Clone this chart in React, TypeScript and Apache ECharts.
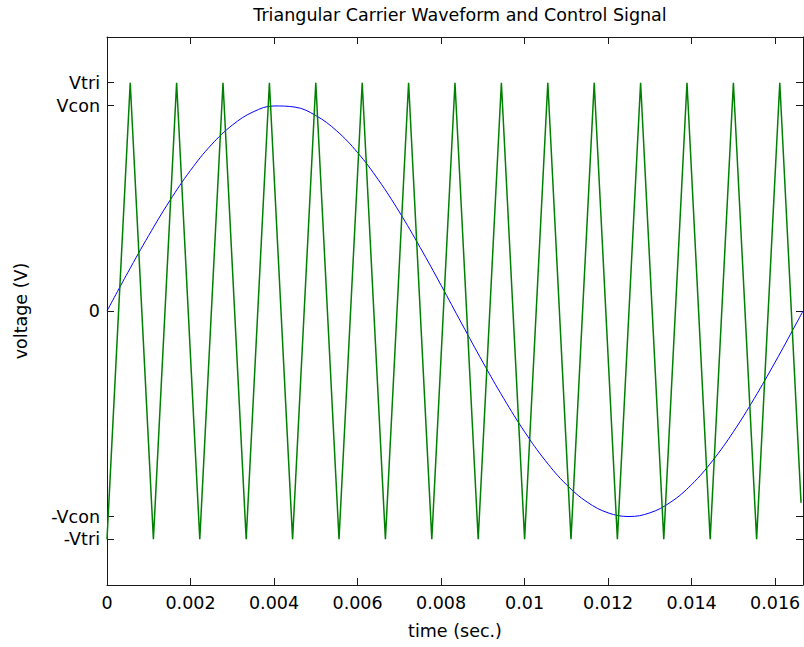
import React, { useEffect, useRef } from "react";
import * as echarts from "echarts";

const FONT = "DejaVu Sans";

const titleText = "Triangular Carrier Waveform and Control Signal";
const xAxisName = "time (sec.)";
const yAxisName = "voltage (V)";

const xTickValues = [0, 0.002, 0.004, 0.006, 0.008, 0.01, 0.012, 0.014, 0.016];
const xTickLabels = ["0", "0.002", "0.004", "0.006", "0.008", "0.01", "0.012", "0.014", "0.016"];
const yTickValues = [-1, -0.9, 0, 0.9, 1];
const yTickLabels = ["-Vtri", "-Vcon", "0", "Vcon", "Vtri"];

// Triangular carrier: vertex times (s) and values (per-unit of Vtri)
const triTimes = [
  0, 0.000556, 0.001111, 0.001667, 0.002222, 0.002778, 0.003333, 0.003889,
  0.004444, 0.005, 0.005556, 0.006111, 0.006667, 0.007222, 0.007778, 0.008333,
  0.008889, 0.009444, 0.01, 0.010556, 0.011111, 0.011667, 0.012222, 0.012778,
  0.013333, 0.013889, 0.014444, 0.015, 0.015556, 0.016111, 0.01662,
];
const triValues = [
  -1, 1, -1, 1, -1, 1, -1, 1, -1, 1, -1, 1, -1, 1, -1, 1,
  -1, 1, -1, 1, -1, 1, -1, 1, -1, 1, -1, 1, -1, 1, -0.84,
];

// Control signal (sinusoid), sampled values
const conTimes = [
  0, 0.0005, 0.001, 0.0015, 0.002, 0.0025, 0.003, 0.0035, 0.004, 0.0045, 0.005,
  0.0055, 0.006, 0.0065, 0.007, 0.0075, 0.008, 0.0085, 0.009, 0.0095, 0.01,
  0.0105, 0.011, 0.0115, 0.012, 0.0125, 0.013, 0.0135, 0.014, 0.0145, 0.015,
  0.0155, 0.016, 0.0165, 0.016667,
];
const conValues = [
  0, 0.169, 0.331, 0.482, 0.616, 0.728, 0.814, 0.872, 0.898, 0.893, 0.856,
  0.789, 0.694, 0.574, 0.434, 0.278, 0.113, -0.057, -0.224, -0.383, -0.529,
  -0.656, -0.76, -0.837, -0.884, -0.9, -0.884, -0.837, -0.76, -0.656, -0.529,
  -0.383, -0.224, -0.057, 0,
];

const X_MIN = 0;
const X_MAX = 0.016667;
const Y_MIN = -1.2;
const Y_MAX = 1.2;

function labelFor(values: number[], labels: string[], v: number) {
  const i = values.findIndex((t) => Math.abs(t - v) < 1e-9);
  return i >= 0 ? labels[i] : "";
}

export default function App() {
  const ref = useRef<HTMLDivElement>(null);

  useEffect(() => {
    if (!ref.current) return;
    const chart = echarts.init(ref.current, undefined, { renderer: "svg" });
    const lineColor = "#1a1a1a";
    const textStyle = { fontFamily: FONT, fontSize: 17.5, color: "#000" };

    const baseX = {
      type: "value" as const,
      min: X_MIN,
      max: X_MAX,
      splitLine: { show: false },
      axisLine: { show: true, onZero: false, lineStyle: { color: lineColor, width: 1 } },
      axisTick: {
        show: true,
        inside: true,
        length: 7,
        customValues: xTickValues,
        lineStyle: { color: lineColor, width: 1 },
      },
    };
    const baseY = {
      type: "value" as const,
      min: Y_MIN,
      max: Y_MAX,
      splitLine: { show: false },
      axisLine: { show: true, onZero: false, lineStyle: { color: lineColor, width: 1 } },
      axisTick: {
        show: true,
        inside: true,
        length: 7,
        customValues: yTickValues,
        lineStyle: { color: lineColor, width: 1 },
      },
    };

    chart.setOption({
      animation: false,
      backgroundColor: "#fff",
      title: {
        text: titleText,
        left: 455,
        top: 1,
        textAlign: "center",
        textStyle: { ...textStyle, fontWeight: "normal" },
      },
      grid: { left: 107, right: 1, top: 37, bottom: 62, containLabel: false },
      xAxis: [
        {
          ...baseX,
          position: "bottom",
          name: xAxisName,
          nameLocation: "middle",
          nameGap: 37,
          nameTextStyle: textStyle,
          axisLabel: {
            show: true,
            margin: 9,
            customValues: xTickValues,
            ...textStyle,
            formatter: (v: number) => labelFor(xTickValues, xTickLabels, v),
          },
        },
        {
          ...baseX,
          position: "top",
          axisLabel: { show: false },
        },
      ],
      yAxis: [
        {
          ...baseY,
          position: "left",
          name: yAxisName,
          nameLocation: "middle",
          nameGap: 77,
          nameTextStyle: textStyle,
          axisLabel: {
            show: true,
            margin: 7,
            customValues: yTickValues,
            ...textStyle,
            formatter: (v: number) => labelFor(yTickValues, yTickLabels, v),
          },
        },
        {
          ...baseY,
          position: "right",
          axisLabel: { show: false },
        },
      ],
      series: [
        {
          type: "line",
          xAxisIndex: 0,
          yAxisIndex: 0,
          data: conTimes.map((t, i) => [t, conValues[i]]),
          smooth: 0.4,
          showSymbol: false,
          lineStyle: { color: "#0000ff", width: 1 },
          z: 2,
        },
        {
          type: "line",
          xAxisIndex: 0,
          yAxisIndex: 0,
          data: triTimes.map((t, i) => [t, triValues[i]]),
          showSymbol: false,
          lineStyle: { color: "#008000", width: 1.5 },
          z: 3,
        },
      ],
    });
    return () => chart.dispose();
  }, []);

  return (
    <div
      ref={ref}
      style={{ position: "fixed", left: 0, top: 0, width: 804, height: 647 }}
    />
  );
}
